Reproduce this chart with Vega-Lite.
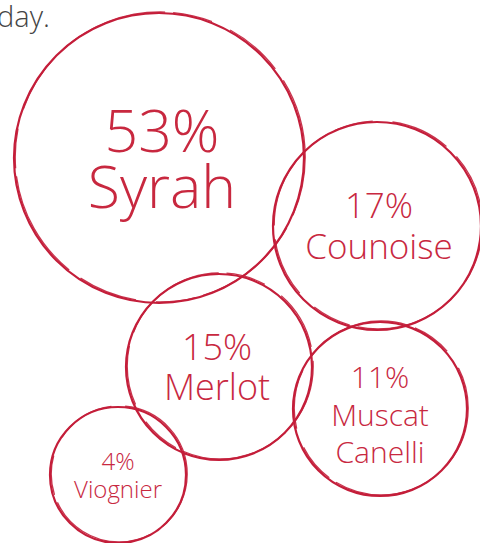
{
  "$schema": "https://vega.github.io/schema/vega-lite/v6.json",
  "width": 480,
  "height": 543,
  "padding": 0,
  "autosize": "none",
  "background": "white",
  "config": {"view": {"stroke": null}},
  "resolve": {"scale": {"size": "independent"}},
  "datasets": {
    "bubbles": [
      {"name": "Syrah", "value": 53, "cx": 159, "cy": 158},
      {"name": "Counoise", "value": 17, "cx": 377, "cy": 226},
      {"name": "Merlot", "value": 15, "cx": 219, "cy": 367},
      {"name": "Muscat Canelli", "value": 11, "cx": 380, "cy": 409},
      {"name": "Viognier", "value": 4, "cx": 118, "cy": 475}
    ],
    "labels": [
      {"name": "Syrah", "value": 53, "text": "53%", "tx": 162, "ty": 152},
      {"name": "Syrah", "value": 53, "text": "Syrah", "tx": 162, "ty": 208},
      {"name": "Counoise", "value": 17, "text": "17%", "tx": 379, "ty": 218},
      {"name": "Counoise", "value": 17, "text": "Counoise", "tx": 379, "ty": 259},
      {"name": "Merlot", "value": 15, "text": "15%", "tx": 217, "ty": 360},
      {"name": "Merlot", "value": 15, "text": "Merlot", "tx": 217, "ty": 400},
      {"name": "Muscat Canelli", "value": 11, "text": "11%", "tx": 380, "ty": 388},
      {"name": "Muscat Canelli", "value": 11, "text": "Muscat", "tx": 380, "ty": 426},
      {"name": "Muscat Canelli", "value": 11, "text": "Canelli", "tx": 380, "ty": 463},
      {"name": "Viognier", "value": 4, "text": "4%", "tx": 118, "ty": 470},
      {"name": "Viognier", "value": 4, "text": "Viognier", "tx": 118, "ty": 498}
    ],
    "caption": [
      {"text": "day.", "tx": -3, "ty": 27}
    ]
  },
  "layer": [
    {
      "data": {"name": "bubbles"},
      "mark": {"type": "point", "shape": "circle", "filled": false, "stroke": "#c41e3a", "strokeWidth": 2.2, "opacity": 1},
      "encoding": {
        "x": {"field": "cx", "type": "quantitative", "scale": {"domain": [0, 480], "nice": false, "zero": false}, "axis": null},
        "y": {"field": "cy", "type": "quantitative", "scale": {"domain": [0, 543], "nice": false, "zero": false, "reverse": true}, "axis": null},
        "size": {"field": "value", "type": "quantitative", "scale": {"type": "linear", "domain": [4, 11, 15, 17, 53], "range": [18496, 30276, 34596, 43264, 84100]}, "legend": null}
      }
    },
    {
      "data": {"name": "bubbles"},
      "mark": {"type": "point", "shape": "circle", "filled": false, "stroke": "#c41e3a", "strokeWidth": 1.3, "opacity": 0.9, "xOffset": 1.2, "yOffset": -1, "strokeDash": [60, 14, 110, 8, 40, 20]},
      "encoding": {
        "x": {"field": "cx", "type": "quantitative", "scale": {"domain": [0, 480], "nice": false, "zero": false}, "axis": null},
        "y": {"field": "cy", "type": "quantitative", "scale": {"domain": [0, 543], "nice": false, "zero": false, "reverse": true}, "axis": null},
        "size": {"field": "value", "type": "quantitative", "scale": {"type": "linear", "domain": [4, 11, 15, 17, 53], "range": [18496, 30276, 34596, 43264, 84100]}, "legend": null}
      }
    },
    {
      "data": {"name": "labels"},
      "mark": {"type": "text", "align": "center", "baseline": "alphabetic", "font": "Open Sans", "fontWeight": 300, "color": "#c8283f"},
      "encoding": {
        "x": {"field": "tx", "type": "quantitative", "scale": {"domain": [0, 480], "nice": false, "zero": false}, "axis": null},
        "y": {"field": "ty", "type": "quantitative", "scale": {"domain": [0, 543], "nice": false, "zero": false, "reverse": true}, "axis": null},
        "text": {"field": "text", "type": "nominal"},
        "size": {"field": "value", "type": "quantitative", "scale": {"type": "linear", "domain": [4, 11, 15, 17, 53], "range": [24, 30, 36, 35, 59]}, "legend": null}
      }
    },
    {
      "data": {"name": "caption"},
      "mark": {"type": "text", "align": "left", "baseline": "alphabetic", "font": "Open Sans", "fontWeight": 300, "fontSize": 29, "color": "#444444"},
      "encoding": {
        "x": {"field": "tx", "type": "quantitative", "scale": {"domain": [0, 480], "nice": false, "zero": false}, "axis": null},
        "y": {"field": "ty", "type": "quantitative", "scale": {"domain": [0, 543], "nice": false, "zero": false, "reverse": true}, "axis": null},
        "text": {"field": "text", "type": "nominal"}
      }
    }
  ]
}
